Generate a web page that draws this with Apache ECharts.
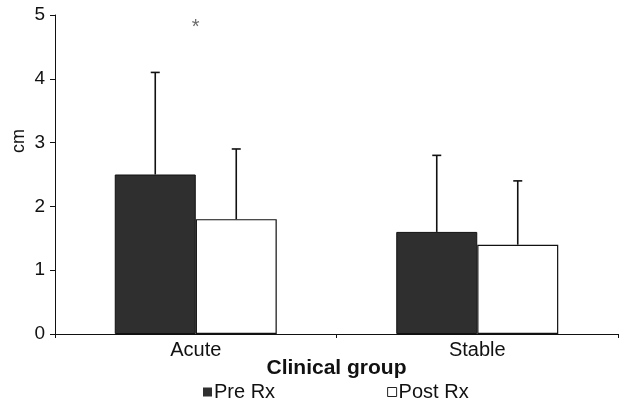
<!DOCTYPE html>
<html>
<head>
<meta charset="utf-8">
<script src="https://cdn.jsdelivr.net/npm/echarts@6/dist/echarts.min.js"></script>
<style>html,body{margin:0;padding:0;background:#fff}#c{width:622px;height:404px}</style>
</head>
<body>
<div id="c"></div>
<script>
const categories = ['Acute', 'Stable'];
const preRx = [2.5, 1.6];
const postRx = [1.8, 1.4];
const preRxErrTop = [4.1, 2.8];
const postRxErrTop = [2.9, 2.4];
const yTicks = [0, 1, 2, 3, 4, 5];
const significance = [['Acute', 4.87, '*']];

const FONT = '"Liberation Sans", Arial, Helvetica, sans-serif';
const BAR_W = 81;

function errSeries(name, vals, tops, offset) {
  return {
    type: 'custom',
    name: name + ' err',
    silent: true,
    z: 5,
    data: vals.map((v, i) => [i, v, tops[i]]),
    renderItem: function (params, api) {
      const p0 = api.coord([api.value(0), api.value(1)]);
      const p1 = api.coord([api.value(0), api.value(2)]);
      const x = p0[0] + offset;
      const cap = 4.5;
      return {
        type: 'group',
        children: [
          { type: 'line', shape: { x1: x, y1: p0[1], x2: x, y2: p1[1] }, style: { stroke: '#111', lineWidth: 1.6 } },
          { type: 'line', shape: { x1: x - cap, y1: p1[1], x2: x + cap, y2: p1[1] }, style: { stroke: '#111', lineWidth: 1.6 } }
        ]
      };
    }
  };
}

const chart = echarts.init(document.getElementById('c'));
chart.setOption({
  animation: false,
  backgroundColor: '#fff',
  grid: { left: 55, right: 4, top: 15, bottom: 70, containLabel: false, outerBoundsMode: 'none' },
  graphic: [{
    type: 'text',
    x: 19, y: 141,
    rotation: Math.PI / 2,
    style: { text: 'cm', fontFamily: FONT, fontSize: 18, fill: '#111', align: 'center', verticalAlign: 'middle' },
    origin: [0, 0]
  }],
  legend: {
    data: [
      { name: 'Pre Rx', itemStyle: { color: '#2f2f2f', borderColor: '#2f2f2f', borderWidth: 0 } },
      { name: 'Post Rx', itemStyle: { color: '#fff', borderColor: '#222', borderWidth: 1 } }
    ],
    left: 203,
    top: 382,
    padding: 0,
    icon: 'rect',
    itemWidth: 9,
    itemHeight: 9,
    itemGap: 112,
    textStyle: { fontFamily: FONT, fontSize: 20, color: '#111', padding: [0, 0, 0, -3] }
  },
  xAxis: {
    type: 'category',
    data: categories,
    name: 'Clinical group',
    nameLocation: 'middle',
    nameGap: 24,
    nameMoveOverlap: false,
    nameTextStyle: { fontFamily: FONT, fontSize: 21, fontWeight: 'bold', color: '#111' },
    axisLine: { lineStyle: { color: '#111', width: 1 } },
    axisTick: { show: true, length: 4, lineStyle: { color: '#111' } },
    axisLabel: { fontFamily: FONT, fontSize: 20, color: '#111', margin: 6 }
  },
  yAxis: {
    type: 'value',
    min: 0, max: 5, interval: 1,
    axisLine: { show: true, lineStyle: { color: '#111', width: 1 } },
    axisTick: { show: true, length: 5, lineStyle: { color: '#111' } },
    splitLine: { show: false },
    axisLabel: { fontFamily: FONT, fontSize: 19, color: '#111', margin: 10,
      formatter: v => yTicks.includes(v) ? String(v) : '' }
  },
  series: [
    { type: 'bar', name: 'Pre Rx', data: preRx, barWidth: BAR_W, barGap: '0%',
      itemStyle: { color: '#2f2f2f', borderColor: '#111', borderWidth: 1 } },
    { type: 'bar', name: 'Post Rx', data: postRx, barWidth: BAR_W, barGap: '0%',
      itemStyle: { color: '#fff', borderColor: '#111', borderWidth: 1.2 } },
    errSeries('Pre Rx', preRx, preRxErrTop, -BAR_W / 2),
    errSeries('Post Rx', postRx, postRxErrTop, BAR_W / 2),
    {
      type: 'scatter',
      name: 'sig',
      symbolSize: 0,
      silent: true,
      data: significance.map(s => [s[0], s[1], s[2]]),
      label: { show: true, position: 'inside', formatter: p => p.data[2],
        fontFamily: FONT, fontSize: 20, color: '#444', offset: [0, 4] }
    }
  ]
});
</script>
</body>
</html>
